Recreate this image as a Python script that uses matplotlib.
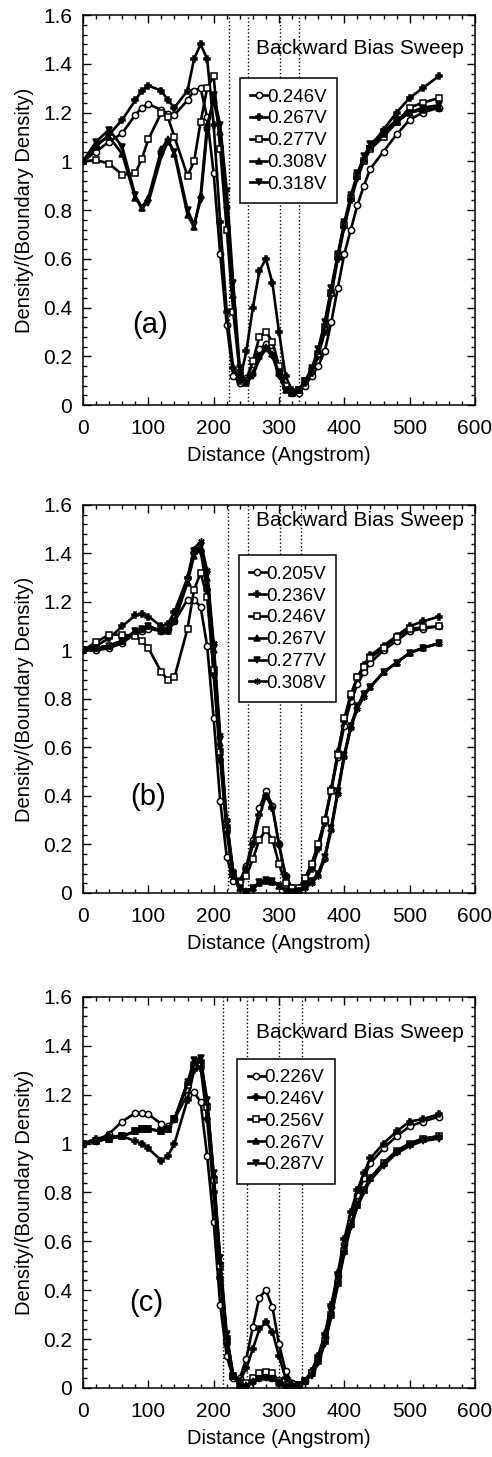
import numpy as np
import matplotlib
matplotlib.use("Agg")
import matplotlib.pyplot as plt
from matplotlib.ticker import MultipleLocator, FuncFormatter

plt.rcParams['font.family'] = ['Liberation Sans', 'DejaVu Sans']

# distance grid (Angstrom), shared by all curves
X = [0, 20, 40, 60, 80, 90, 100, 120, 130, 140, 160, 170, 180, 190, 200, 210, 220,
     230, 240, 250, 260, 270, 280, 290, 300, 310, 320, 330, 340, 350, 360, 370, 380,
     390, 400, 410, 420, 430, 440, 460, 480, 500, 520, 545]

# ---- panel (a)
labels_a = ['0.246V', '0.267V', '0.277V', '0.308V', '0.318V']
a_246 = [1.00, 1.04, 1.08, 1.115, 1.19, 1.22, 1.235, 1.21, 1.195, 1.19, 1.25, 1.29, 1.30, 1.18, 0.95, 0.62, 0.33,
         0.12, 0.09, 0.11, 0.17, 0.23, 0.25, 0.22, 0.14, 0.07, 0.05, 0.05, 0.08, 0.12, 0.16, 0.22, 0.34,
         0.48, 0.62, 0.72, 0.82, 0.90, 0.97, 1.04, 1.11, 1.17, 1.20, 1.22]
a_267 = [1.00, 1.06, 1.11, 1.17, 1.25, 1.29, 1.31, 1.29, 1.25, 1.22, 1.29, 1.42, 1.48, 1.42, 1.15, 0.75, 0.38,
         0.15, 0.10, 0.22, 0.40, 0.55, 0.60, 0.50, 0.30, 0.12, 0.06, 0.06, 0.09, 0.13, 0.20, 0.30, 0.45,
         0.60, 0.73, 0.84, 0.93, 1.00, 1.06, 1.13, 1.20, 1.26, 1.30, 1.35]
a_277 = [1.00, 1.005, 0.99, 0.945, 0.95, 1.01, 1.09, 1.20, 1.18, 1.10, 0.94, 1.00, 1.16, 1.30, 1.35, 1.05, 0.72,
         0.38, 0.13, 0.10, 0.18, 0.28, 0.30, 0.26, 0.16, 0.08, 0.05, 0.06, 0.10, 0.14, 0.21, 0.32, 0.46,
         0.61, 0.74, 0.85, 0.94, 1.00, 1.05, 1.10, 1.16, 1.22, 1.24, 1.26]
a_308 = [1.00, 1.07, 1.10, 1.03, 0.85, 0.81, 0.85, 1.05, 1.09, 1.03, 0.78, 0.73, 0.86, 1.15, 1.25, 1.12, 0.82,
         0.45, 0.13, 0.09, 0.13, 0.20, 0.24, 0.21, 0.13, 0.06, 0.05, 0.06, 0.10, 0.14, 0.22, 0.33, 0.47,
         0.61, 0.74, 0.85, 0.94, 1.01, 1.06, 1.11, 1.16, 1.20, 1.21, 1.22]
a_318 = [1.00, 1.08, 1.13, 1.06, 0.86, 0.81, 0.83, 1.02, 1.08, 1.04, 0.80, 0.74, 0.84, 1.12, 1.27, 1.15, 0.88,
         0.50, 0.15, 0.09, 0.12, 0.19, 0.23, 0.20, 0.12, 0.06, 0.05, 0.06, 0.10, 0.15, 0.23, 0.34, 0.48,
         0.62, 0.75, 0.86, 0.95, 1.02, 1.07, 1.12, 1.17, 1.20, 1.22, 1.23]

# ---- panel (b)
labels_b = ['0.205V', '0.236V', '0.246V', '0.267V', '0.277V', '0.308V']
b_205 = [1.00, 1.00, 1.01, 1.03, 1.07, 1.08, 1.09, 1.08, 1.09, 1.12, 1.21, 1.21, 1.18, 1.02, 0.72, 0.38, 0.15,
         0.05, 0.05, 0.11, 0.22, 0.35, 0.42, 0.36, 0.20, 0.07, 0.02, 0.02, 0.06, 0.12, 0.20, 0.30, 0.43,
         0.56, 0.69, 0.79, 0.86, 0.91, 0.95, 1.00, 1.04, 1.08, 1.09, 1.10]
b_236 = [1.00, 1.02, 1.05, 1.10, 1.145, 1.15, 1.14, 1.10, 1.11, 1.16, 1.30, 1.40, 1.41, 1.25, 0.90, 0.55, 0.25,
         0.07, 0.05, 0.10, 0.20, 0.32, 0.40, 0.35, 0.20, 0.07, 0.02, 0.02, 0.05, 0.10, 0.18, 0.29, 0.43,
         0.58, 0.71, 0.81, 0.89, 0.94, 0.98, 1.02, 1.06, 1.10, 1.12, 1.14]
b_246 = [1.00, 1.035, 1.065, 1.065, 1.06, 1.04, 1.01, 0.91, 0.88, 0.89, 1.09, 1.25, 1.32, 1.22, 0.92, 0.58, 0.27,
         0.08, 0.04, 0.07, 0.14, 0.22, 0.26, 0.22, 0.12, 0.04, 0.02, 0.02, 0.06, 0.12, 0.20, 0.30, 0.42,
         0.57, 0.72, 0.82, 0.89, 0.93, 0.97, 1.01, 1.055, 1.09, 1.095, 1.10]
b_267 = [1.00, 1.01, 1.02, 1.04, 1.08, 1.09, 1.10, 1.08, 1.08, 1.12, 1.28, 1.39, 1.42, 1.30, 1.00, 0.62, 0.28,
         0.08, 0.02, 0.01, 0.02, 0.04, 0.05, 0.045, 0.03, 0.01, 0.005, 0.01, 0.03, 0.05, 0.08, 0.15, 0.27,
         0.42, 0.57, 0.69, 0.77, 0.82, 0.85, 0.91, 0.95, 0.99, 1.01, 1.03]
b_277 = [1.00, 1.01, 1.02, 1.04, 1.08, 1.09, 1.10, 1.08, 1.08, 1.12, 1.29, 1.41, 1.43, 1.31, 1.01, 0.63, 0.29,
         0.08, 0.02, 0.005, 0.02, 0.045, 0.055, 0.05, 0.03, 0.01, 0.005, 0.01, 0.03, 0.05, 0.08, 0.15, 0.27,
         0.42, 0.57, 0.69, 0.77, 0.82, 0.85, 0.91, 0.95, 0.99, 1.01, 1.03]
b_308 = [1.00, 1.01, 1.02, 1.04, 1.08, 1.09, 1.10, 1.08, 1.08, 1.12, 1.30, 1.42, 1.45, 1.33, 1.03, 0.65, 0.30,
         0.09, 0.02, 0.005, 0.02, 0.04, 0.05, 0.045, 0.03, 0.01, 0.005, 0.01, 0.02, 0.04, 0.07, 0.14, 0.26,
         0.41, 0.56, 0.68, 0.76, 0.81, 0.85, 0.91, 0.95, 0.99, 1.01, 1.03]

# ---- panel (c)
labels_c = ['0.226V', '0.246V', '0.256V', '0.267V', '0.287V']
c_226 = [1.00, 1.01, 1.04, 1.09, 1.125, 1.125, 1.12, 1.08, 1.07, 1.10, 1.20, 1.21, 1.17, 0.95, 0.68, 0.34, 0.13,
         0.04, 0.04, 0.12, 0.25, 0.37, 0.40, 0.33, 0.18, 0.07, 0.02, 0.01, 0.03, 0.07, 0.13, 0.21, 0.33,
         0.46, 0.59, 0.70, 0.79, 0.86, 0.92, 0.98, 1.03, 1.07, 1.09, 1.11]
c_246 = [1.00, 1.02, 1.03, 1.03, 1.01, 1.00, 0.98, 0.93, 0.95, 1.00, 1.18, 1.30, 1.31, 1.10, 0.80, 0.45, 0.18,
         0.05, 0.03, 0.08, 0.16, 0.24, 0.27, 0.23, 0.13, 0.04, 0.01, 0.01, 0.03, 0.07, 0.13, 0.22, 0.34,
         0.47, 0.61, 0.72, 0.81, 0.88, 0.94, 1.00, 1.05, 1.09, 1.10, 1.12]
c_256 = [1.00, 1.01, 1.02, 1.03, 1.05, 1.06, 1.06, 1.05, 1.06, 1.10, 1.24, 1.32, 1.33, 1.15, 0.85, 0.50, 0.20,
         0.05, 0.01, 0.02, 0.04, 0.06, 0.065, 0.06, 0.03, 0.01, 0.005, 0.01, 0.03, 0.06, 0.11, 0.19, 0.30,
         0.43, 0.56, 0.67, 0.75, 0.81, 0.86, 0.92, 0.97, 1.00, 1.02, 1.03]
c_267 = [1.00, 1.01, 1.02, 1.03, 1.05, 1.06, 1.06, 1.05, 1.06, 1.10, 1.25, 1.33, 1.34, 1.17, 0.87, 0.52, 0.21,
         0.05, 0.01, 0.01, 0.03, 0.04, 0.045, 0.04, 0.02, 0.01, 0.005, 0.01, 0.03, 0.06, 0.11, 0.19, 0.30,
         0.43, 0.56, 0.67, 0.75, 0.81, 0.86, 0.92, 0.97, 1.00, 1.02, 1.03]
c_287 = [1.00, 1.01, 1.02, 1.03, 1.05, 1.06, 1.06, 1.05, 1.06, 1.10, 1.25, 1.34, 1.35, 1.18, 0.88, 0.53, 0.22,
         0.05, 0.01, 0.005, 0.02, 0.035, 0.04, 0.035, 0.02, 0.005, 0.005, 0.01, 0.03, 0.05, 0.10, 0.18, 0.29,
         0.42, 0.55, 0.66, 0.74, 0.80, 0.85, 0.91, 0.96, 0.99, 1.01, 1.02]

# dotted guide lines (Angstrom)
vlines_a = [224, 252, 302, 330]
vlines_b = [222, 253, 302, 333]
vlines_c = [215, 251, 300, 335]

ASTER = (6, 2, 0)
# marker styles: (marker, filled)
styles_a = [('o', False), ('P', True), ('s', False), ('^', True), ('v', True)]
styles_b = [('o', False), ('P', True), ('s', False), ('^', True), ('v', True), (ASTER, True)]
styles_c = [('o', False), ('P', True), ('s', False), ('^', True), ('v', True)]

panels = [
    ('(a)', labels_a, [a_246, a_267, a_277, a_308, a_318], styles_a, vlines_a,
     [0.1687, 0.7220, 0.7967, 0.2677], (0.40, 0.838), 0.915, (0.17, 0.205)),
    ('(b)', labels_b, [b_205, b_236, b_246, b_267, b_277, b_308], styles_b, vlines_b,
     [0.1687, 0.3871, 0.7967, 0.2663], (0.397, 0.870), 0.960, (0.166, 0.247)),
    ('(c)', labels_c, [c_226, c_246, c_256, c_267, c_287], styles_c, vlines_c,
     [0.1687, 0.0474, 0.7967, 0.2684], (0.394, 0.842), 0.910, (0.161, 0.217)),
]

fig = plt.figure(figsize=(4.92, 14.57), dpi=100)

for tag, labels, series, styles, vl, rect, leg_pos, title_y, tag_pos in panels:
    ax = fig.add_axes(rect)
    for x0 in vl:
        ax.axvline(x0, color='black', linestyle=':', linewidth=1.0, zorder=1)
    for lab, ys, (mk, filled) in zip(labels, series, styles):
        ax.plot(X, ys, color='black', linewidth=1.9, marker=mk, markersize=4.5,
                markerfacecolor='black' if filled else 'white',
                markeredgecolor='black', markeredgewidth=1.1, label=lab, zorder=3)

    ax.set_xlim(0, 600)
    ax.set_ylim(0, 1.6)
    ax.xaxis.set_major_locator(MultipleLocator(100))
    ax.xaxis.set_minor_locator(MultipleLocator(20))
    ax.yaxis.set_major_locator(MultipleLocator(0.2))
    ax.yaxis.set_minor_locator(MultipleLocator(0.04))
    ax.yaxis.set_major_formatter(FuncFormatter(lambda v, p: '%g' % round(v, 2)))
    ax.tick_params(which='both', direction='in', top=True, right=True, labelsize=15, width=1.0)
    ax.tick_params(which='major', length=6)
    ax.tick_params(which='minor', length=3)
    ax.tick_params(axis='x', pad=10)
    ax.tick_params(axis='y', pad=8)
    for sp in ax.spines.values():
        sp.set_linewidth(1.1)

    ax.set_xlabel('Distance (Angstrom)', fontsize=14.5, labelpad=6)
    ax.set_ylabel('Density/(Boundary Density)', fontsize=14.5, labelpad=6)

    ax.text(0.707, title_y, 'Backward Bias Sweep', transform=ax.transAxes,
            ha='center', va='center', fontsize=15)
    ax.text(tag_pos[0], tag_pos[1], tag, transform=ax.transAxes,
            ha='center', va='center', fontsize=21)

    leg = ax.legend(loc='upper left', bbox_to_anchor=leg_pos, fontsize=13.5,
                    handlelength=0.9, handletextpad=0.0, labelspacing=0.25,
                    borderpad=0.55, borderaxespad=0, numpoints=1,
                    fancybox=False, framealpha=1, edgecolor='black')
    leg.get_frame().set_linewidth(1.1)
    leg.set_zorder(5)

fig.savefig('out.png', dpi=100)
